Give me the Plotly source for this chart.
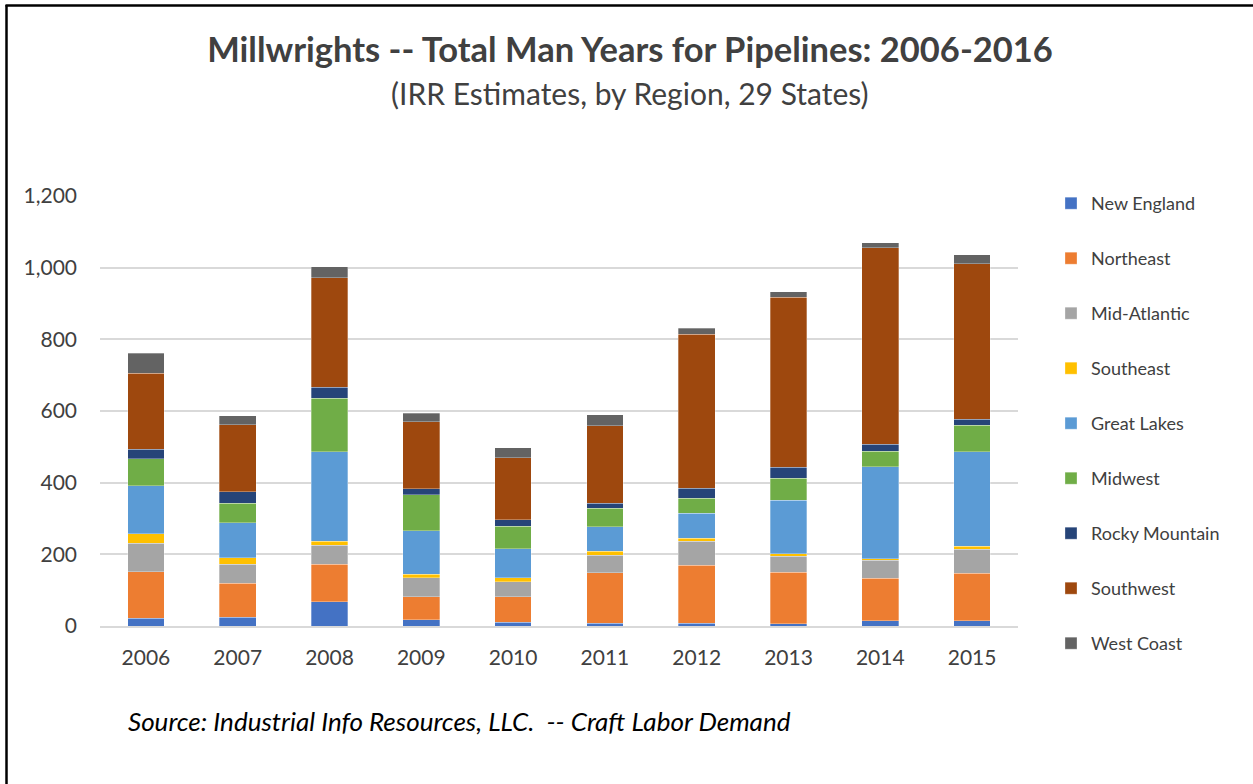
import plotly.graph_objects as go

years = ["2006", "2007", "2008", "2009", "2010", "2011", "2012", "2013", "2014", "2015"]

new_england    = [22, 25, 67, 17, 11, 8, 7, 6, 15, 15]
northeast      = [130, 95, 106, 65, 70, 140, 162, 144, 118, 132]
mid_atlantic   = [79, 53, 53, 52, 43, 50, 67, 45, 50, 67]
southeast      = [27, 17, 11, 10, 11, 10, 9, 6, 5, 8]
great_lakes    = [133, 98, 249, 122, 81, 69, 69, 150, 256, 264]
midwest        = [76, 55, 150, 100, 62, 51, 43, 61, 44, 74]
rocky_mountain = [26, 32, 30, 17, 19, 14, 27, 31, 19, 17]
southwest      = [213, 187, 306, 187, 173, 217, 430, 474, 549, 434]
west_coast     = [55, 25, 30, 24, 28, 30, 17, 16, 13, 25]

series = [
    ("New England", new_england, "#4472C4"),
    ("Northeast", northeast, "#ED7D31"),
    ("Mid-Atlantic", mid_atlantic, "#A5A5A5"),
    ("Southeast", southeast, "#FFC000"),
    ("Great Lakes", great_lakes, "#5B9BD5"),
    ("Midwest", midwest, "#70AD47"),
    ("Rocky Mountain", rocky_mountain, "#264478"),
    ("Southwest", southwest, "#9E480E"),
    ("West Coast", west_coast, "#636363"),
]

FONT = "Lato"

fig = go.Figure()
for name, vals, color in series:
    fig.add_trace(go.Bar(
        x=years, y=vals, name=name, legendgroup=name,
        marker=dict(color=color, line=dict(color="rgba(255,255,255,0.5)", width=0.6)),
    ))

W, H = 1253, 784
L, R, T, B = 100, 1018, 196, 626
pw, ph = R - L, B - T

def px(x):
    return (x - L) / pw

def py(y):
    return (B - y) / ph

fig.update_layout(
    width=W, height=H,
    margin=dict(l=L, r=W - R, t=T, b=H - B, autoexpand=False),
    barmode="stack",
    bargap=0.6,
    plot_bgcolor="white",
    paper_bgcolor="white",
    font=dict(family=FONT, color="#595959"),
    title=dict(
        text="<b>Millwrights -- Total Man Years for Pipelines: 2006-2016</b>",
        x=630 / W, xanchor="center", xref="container",
        y=1 - 50 / H, yanchor="middle", yref="container",
        font=dict(family=FONT, size=34.5, color="#404040"),
    ),
    legend=dict(
        x=px(1051), xanchor="left", y=py(185), yanchor="top",
        traceorder="grouped", tracegroupgap=28.6, maxheight=700,
        font=dict(family=FONT, size=18, color="#404040"),
        bgcolor="rgba(0,0,0,0)",
    ),
    xaxis=dict(
        showgrid=False, showline=True, linecolor="#D9D9D9", linewidth=1.5,
        ticks="", tickfont=dict(family=FONT, size=21, color="#404040"),
        ticklabelstandoff=12,
    ),
    yaxis=dict(
        range=[0, 1200], tickvals=[0, 200, 400, 600, 800, 1000, 1200],
        ticktext=["0", "200", "400", "600", "800", "1,000", "1,200"],
        showgrid=True, gridcolor="#D9D9D9", gridwidth=1.5,
        zeroline=False, showline=False, ticks="",
        tickfont=dict(family=FONT, size=21, color="#404040"),
        ticklabelstandoff=22,
    ),
    annotations=[
        dict(text="(IRR Estimates, by Region, 29 States)", x=px(630), y=py(93),
             xref="paper", yref="paper", xanchor="center", yanchor="middle",
             showarrow=False, font=dict(family=FONT, size=30, color="#404040")),
        dict(text="<i>Source: Industrial Info Resources, LLC.  -- Craft Labor Demand</i>",
             x=px(126), y=py(721), xref="paper", yref="paper",
             xanchor="left", yanchor="middle", showarrow=False,
             font=dict(family=FONT, size=26, color="#000000")),
    ],
    shapes=[
        dict(type="line", xref="paper", yref="paper", x0=px(6.5), x1=px(6.5),
             y0=py(5), y1=py(800), line=dict(color="black", width=2.5)),
        dict(type="line", xref="paper", yref="paper", x0=px(5.5), x1=px(1300),
             y0=py(5.5), y1=py(5.5), line=dict(color="black", width=2.5)),
    ],
)

fig.write_html(
    "out.html",
    config={"displayModeBar": False},
    post_script="document.body.style.margin='0';document.body.style.overflow='hidden';",
)
